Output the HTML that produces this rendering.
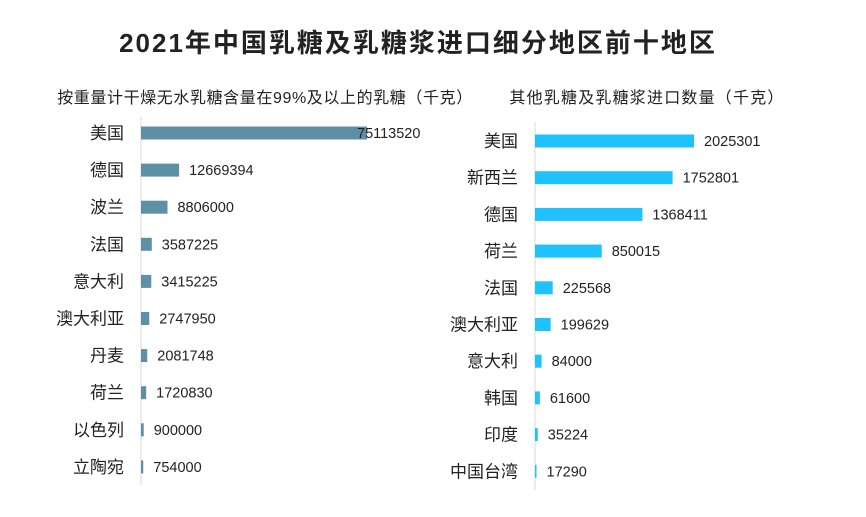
<!DOCTYPE html>
<html><head><meta charset="utf-8"><style>
body{margin:0;background:#fff;}
svg{display:block;font-family:"Liberation Sans","Noto Sans CJK SC",sans-serif;}
</style></head><body>
<svg id="c" width="866" height="517">
<text x="418" y="52" text-anchor="middle" font-size="26" letter-spacing="2" font-weight="bold" fill="#222">2021年中国乳糖及乳糖浆进口细分地区前十地区</text>
<text x="265" y="103" text-anchor="middle" font-size="16" letter-spacing="0.6" fill="#222">按重量计干燥无水乳糖含量在99%及以上的乳糖（千克）</text>
<text x="647" y="103" text-anchor="middle" font-size="16" letter-spacing="1.2" fill="#222">其他乳糖及乳糖浆进口数量（千克）</text>
<line x1="141" y1="117" x2="141" y2="485" stroke="#d9d9d9"/>
<line x1="535" y1="122" x2="535" y2="490" stroke="#d9d9d9"/>
<g id="L"></g><g id="R"></g>
</svg>
<script>
const leftCats=["美国","德国","波兰","法国","意大利","澳大利亚","丹麦","荷兰","以色列","立陶宛"];
const leftVals=[75113520,12669394,8806000,3587225,3415225,2747950,2081748,1720830,900000,754000];
const rightCats=["美国","新西兰","德国","荷兰","法国","澳大利亚","意大利","韩国","印度","中国台湾"];
const rightVals=[2025301,1752801,1368411,850015,225568,199629,84000,61600,35224,17290];
const NS="http://www.w3.org/2000/svg";
function draw(g,cats,vals,x0,pxPerMax,y0,step,color,prefix){
  const max=Math.max(...vals);
  const sx=v=>v/max*pxPerMax;
  cats.forEach((c,i)=>{
    const yc=y0+i*step;
    const t=document.createElementNS(NS,"text");
    
    
    t.setAttribute("x",x0-17);t.setAttribute("y",yc+6);t.setAttribute("text-anchor","end");
    t.setAttribute("font-size","17");t.setAttribute("fill","#222");t.textContent=c;g.appendChild(t);
    const w=Math.max(sx(vals[i]),1.5);
    const r=document.createElementNS(NS,"rect");
    
    
    r.setAttribute("x",x0);r.setAttribute("y",yc-6.5);r.setAttribute("width",w);r.setAttribute("height",13);
    r.setAttribute("fill",color);g.appendChild(r);
    const v=document.createElementNS(NS,"text");
    
    
    v.setAttribute("x",x0+w+(i===0&&prefix==="left"?-10:10));v.setAttribute("y",yc+5);
    v.setAttribute("font-size","14.5");v.setAttribute("fill","#222");v.textContent=vals[i];g.appendChild(v);
  });
}
draw(document.getElementById("L"),leftCats,leftVals,141,226,133,37.1,"#5e90a5","left");
draw(document.getElementById("R"),rightCats,rightVals,535,159,141,36.7,"#1fc1ff","right");
</script>
</body></html>
